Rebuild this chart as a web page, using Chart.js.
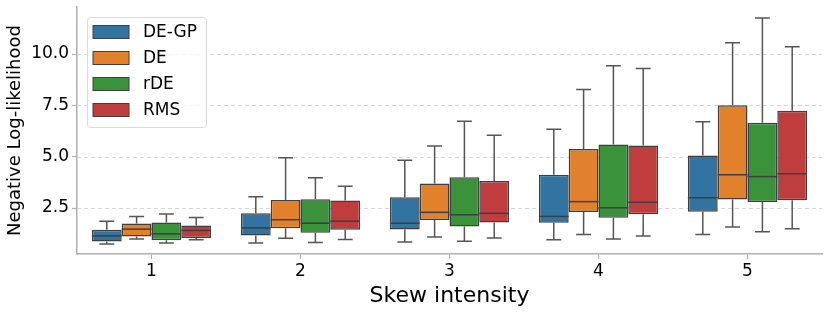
<!DOCTYPE html>
<html>
<head>
<meta charset="utf-8">
<script src="https://cdn.jsdelivr.net/npm/chart.js@4/dist/chart.umd.min.js"></script>
<style>
  html, body { margin: 0; padding: 0; background: #fff; }
  #wrap { width: 831px; height: 314px; }
</style>
</head>
<body>
<div id="wrap"><canvas id="skewChart"></canvas></div>
<script>
const categories = ['1', '2', '3', '4', '5'];
const seriesNames = ['DE-GP', 'DE', 'rDE', 'RMS'];
const seriesColors = ['#3274a1', '#e1812c', '#3a923a', '#c03d3e'];
const yTickValues = [2.5, 5.0, 7.5, 10.0];

// per series: [low whisker, q1, median, q3, high whisker] for each skew intensity
const deGpStats = [
    [0.75, 0.87, 1.14, 1.44, 1.86],
    [0.80, 1.16, 1.53, 2.24, 3.05],
    [0.85, 1.45, 1.76, 3.02, 4.82],
    [0.95, 1.78, 2.09, 4.12, 6.34],
    [1.21, 2.32, 3.00, 5.06, 6.70]
];
const deStats = [
    [0.99, 1.11, 1.47, 1.75, 2.09],
    [1.03, 1.52, 1.93, 2.89, 4.95],
    [1.09, 1.91, 2.29, 3.69, 5.52],
    [1.21, 2.30, 2.81, 5.38, 8.27],
    [1.58, 2.91, 4.12, 7.50, 10.55]
];
const rDeStats = [
    [0.80, 0.93, 1.24, 1.80, 2.21],
    [0.82, 1.29, 1.76, 2.93, 3.97],
    [0.88, 1.60, 2.17, 4.00, 6.73],
    [0.99, 2.02, 2.51, 5.59, 9.43],
    [1.34, 2.79, 4.03, 6.65, 11.76]
];
const rmsStats = [
    [0.95, 1.04, 1.41, 1.65, 2.04],
    [0.97, 1.44, 1.86, 2.86, 3.56],
    [1.04, 1.80, 2.24, 3.81, 6.04],
    [1.14, 2.19, 2.78, 5.54, 9.30],
    [1.49, 2.88, 4.17, 7.24, 10.36]
];
const allStats = [deGpStats, deStats, rDeStats, rmsStats];

const edgeColor = '#3f3f3f';
const font = 'DejaVu Sans';

// whiskers, caps and medians drawn over the floating bars
const boxExtras = {
    id: 'boxExtras',
    beforeDatasetsDraw(chart) {
        const ctx = chart.ctx;
        const area = chart.chartArea;
        const y = chart.scales.y;
        ctx.save();
        ctx.strokeStyle = '#cccccc';
        ctx.lineWidth = 0.8;
        ctx.setLineDash([4, 3]);
        yTickValues.forEach(v => {
            const py = Math.round(y.getPixelForValue(v)) + 0.5;
            ctx.beginPath();
            ctx.moveTo(area.left, py);
            ctx.lineTo(area.right, py);
            ctx.stroke();
        });
        ctx.restore();

        ctx.save();
        ctx.strokeStyle = '#555555';
        ctx.lineWidth = 1.5;
        chart.data.datasets.forEach((ds, di) => {
            const meta = chart.getDatasetMeta(di);
            meta.data.forEach((bar, i) => {
                const s = allStats[di][i];
                const half = bar.width / 4;
                const yLo = y.getPixelForValue(s[0]);
                const yQ1 = y.getPixelForValue(s[1]);
                const yQ3 = y.getPixelForValue(s[3]);
                const yHi = y.getPixelForValue(s[4]);
                ctx.beginPath();
                ctx.moveTo(bar.x, yQ1); ctx.lineTo(bar.x, yLo);
                ctx.moveTo(bar.x, yQ3); ctx.lineTo(bar.x, yHi);
                ctx.moveTo(bar.x - half, yLo); ctx.lineTo(bar.x + half, yLo);
                ctx.moveTo(bar.x - half, yHi); ctx.lineTo(bar.x + half, yHi);
                ctx.stroke();
            });
        });
        ctx.restore();
    },
    afterDatasetsDraw(chart) {
        const ctx = chart.ctx;
        const y = chart.scales.y;
        ctx.save();
        ctx.strokeStyle = edgeColor;
        ctx.lineWidth = 1.5;
        chart.data.datasets.forEach((ds, di) => {
            const meta = chart.getDatasetMeta(di);
            meta.data.forEach((bar, i) => {
                const ym = y.getPixelForValue(allStats[di][i][2]);
                ctx.beginPath();
                ctx.moveTo(bar.x - bar.width / 2, ym);
                ctx.lineTo(bar.x + bar.width / 2, ym);
                ctx.stroke();
            });
        });
        ctx.restore();
    },
    afterDraw(chart) {
        // legend in the upper left corner of the plot
        const ctx = chart.ctx;
        const area = chart.chartArea;
        const x0 = area.left + 10, y0 = area.top + 10;
        const w = 119, h = 110;
        ctx.save();
        ctx.fillStyle = 'rgba(255,255,255,0.8)';
        ctx.strokeStyle = '#d9d9d9';
        ctx.lineWidth = 1;
        ctx.beginPath();
        ctx.roundRect(x0 + 0.5, y0 + 0.5, w, h, 3);
        ctx.fill();
        ctx.stroke();
        ctx.font = '17px "' + font + '"';
        ctx.textBaseline = 'middle';
        seriesNames.forEach((name, i) => {
            const cy = y0 + 15 + i * 26;
            ctx.fillStyle = seriesColors[i];
            ctx.fillRect(x0 + 6, cy - 6.5, 36, 13);
            ctx.strokeStyle = edgeColor;
            ctx.lineWidth = 1;
            ctx.strokeRect(x0 + 6, cy - 6.5, 36, 13);
            ctx.fillStyle = '#000';
            ctx.fillText(name, x0 + 56, cy + 1);
        });
        ctx.restore();
    }
};

const ctx = document.getElementById('skewChart').getContext('2d');
const skewChart = new Chart(ctx, {
    type: 'bar',
    data: {
        labels: categories,
        datasets: seriesNames.map((name, di) => ({
            label: name,
            data: allStats[di].map(s => [s[1], s[3]]),
            backgroundColor: seriesColors[di],
            borderColor: edgeColor,
            borderWidth: 1.5,
            borderSkipped: false,
            barPercentage: 1.0,
            categoryPercentage: 0.8
        }))
    },
    options: {
        responsive: true,
        maintainAspectRatio: false,
        animation: false,
        layout: { padding: { top: 7, right: 9, left: 0, bottom: 0 } },
        plugins: {
            legend: { display: false },
            tooltip: { enabled: false }
        },
        scales: {
            x: {
                offset: true,
                grid: { offset: false, drawOnChartArea: false, tickLength: 5, tickColor: '#b0b0b0', tickWidth: 1.2 },
                border: { color: '#b0b0b0', width: 1.5 },
                ticks: { color: '#000', font: { family: font, size: 17 }, padding: 2 },
                title: {
                    display: true,
                    text: 'Skew intensity',
                    color: '#000',
                    font: { family: font, size: 22 },
                    padding: { top: 0, bottom: 5 }
                },
                afterFit(scale) { scale.height = 60; }
            },
            y: {
                min: 0.26,
                max: 12.29,
                afterBuildTicks(scale) { scale.ticks = yTickValues.map(v => ({ value: v })); },
                grid: { drawOnChartArea: false, tickLength: 5, tickColor: '#b0b0b0', tickWidth: 1.2 },
                border: { color: '#b0b0b0', width: 1.5 },
                ticks: {
                    color: '#000',
                    font: { family: font, size: 17 },
                    padding: 3,
                    callback: v => v.toFixed(1)
                },
                title: {
                    display: true,
                    text: 'Negative Log-likelihood',
                    color: '#000',
                    font: { family: font, size: 18 },
                    padding: { top: 5, bottom: 0 }
                },
                afterFit(scale) {
                    scale.width = 77;
                    scale.paddingTop = 0;
                    scale.paddingBottom = 0;
                }
            }
        }
    },
    plugins: [boxExtras]
});
</script>
</body>
</html>
